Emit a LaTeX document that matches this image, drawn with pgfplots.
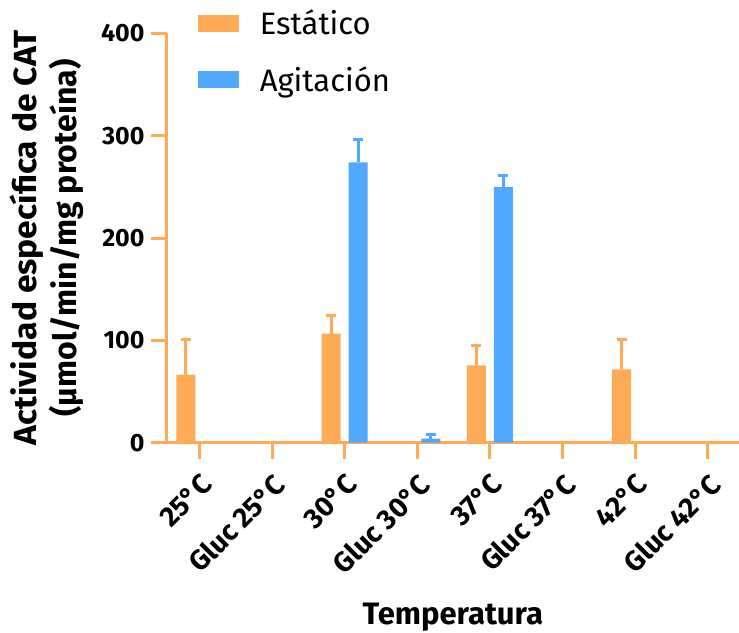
\documentclass[border=0pt]{standalone}
\usepackage{fontspec}
\setmainfont{Fira Sans}
\newfontfamily\ylfont{Fira Sans}[FakeStretch=1.05]
\usepackage{pgfplots}
\pgfplotsset{compat=1.18}
\definecolor{orangeC}{RGB}{255,170,85}
\definecolor{blueC}{RGB}{80,168,255}
\begin{document}
\begin{tikzpicture}
\useasboundingbox (-166.7pt,-189.3pt) rectangle (572.3pt,442.7pt);
\begin{axis}[
  at={(0,0)}, anchor=south west,
  scale only axis,
  width=572.3pt, height=409.4pt,
  xmin=-0.45, xmax=7.43, ymin=0, ymax=400,
  axis x line=bottom, axis y line=left,
  axis line style={-, line width=3pt, color=orangeC},
  tick style={line width=3pt, color=orangeC},
  tick align=outside,
  major tick length=16pt,
  xtick={0,...,7},
  xticklabels={25°C,Gluc 25°C,30°C,Gluc 30°C,37°C,Gluc 37°C,42°C,Gluc 42°C},
  ytick={0,100,200,300,400},
  /pgf/number format/assume math mode=true,
  xticklabel shift=12pt,
  x tick label style={rotate=45, anchor=north east, font=\bfseries\fontsize{28}{30}\selectfont, inner sep=1pt},
  y tick label style={anchor=east, font=\bfseries\fontsize{25}{28}\selectfont, inner sep=0pt, xshift=-6pt},
  ylabel={{\ylfont Actividad específica de CAT}\\(µmol/min/mg proteína)},
  ylabel style={at={(axis description cs:-0.209,0.5)}, anchor=center, align=center, font=\bfseries\fontsize{32}{40}\selectfont},
  xlabel={Temperatura},
  xlabel style={at={(axis description cs:0.5,-0.443)}, anchor=base, font=\bfseries\fontsize{31}{34}\selectfont},
  legend style={at={(axis description cs:0.054,1.0625)}, anchor=north west, draw=none, fill=none, inner sep=0pt,
    font=\fontsize{31}{36}\selectfont, row sep=26pt},
  legend cell align=left,
  legend image code/.code={\fill[#1] (0pt,-8.5pt) rectangle (41pt,8.5pt); \path (60pt,0pt);},
  clip=false,
]
\addplot[ybar, bar width=19pt, bar shift=0pt, fill=orangeC, draw=none,
  error bars/.cd, y dir=plus, y explicit,
  error bar style={line width=3pt, color=orangeC},
  error mark options={rotate=90, mark size=5pt, line width=3pt, color=orangeC}]
  coordinates {(-0.186,66.5) +- (0,34.5) (1.814,106.6) +- (0,17.2) (3.814,75.6) +- (0,18.9) (5.814,71.7) +- (0,29.3)};
\addlegendentry{Estático}
\addplot[ybar, bar width=19pt, bar shift=0pt, fill=blueC, draw=none,
  error bars/.cd, y dir=plus, y explicit,
  error bar style={line width=3pt, color=blueC},
  error mark options={rotate=90, mark size=5pt, line width=3pt, color=blueC}]
  coordinates {(2.186,273.8) +- (0,22.8) (3.186,4) +- (0,4) (4.186,250) +- (0,10.7)};
\addlegendentry{Agitación}
\end{axis}
\end{tikzpicture}
\end{document}
